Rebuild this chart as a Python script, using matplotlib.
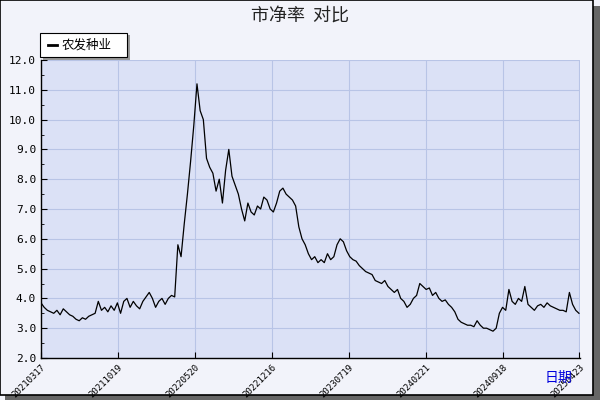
import matplotlib
matplotlib.use("Agg")
import matplotlib.pyplot as plt
from matplotlib.patches import Rectangle
import numpy as np

plt.rcParams['font.family'] = ['Noto Sans CJK SC', 'DejaVu Sans']

series_name = "农发种业"
step = 6
values = [
    3.85,3.7,3.6,3.55,3.5,3.6,3.45,3.65,3.55,3.45,
    3.4,3.3,3.25,3.35,3.3,3.4,3.45,3.5,3.9,3.6,
    3.7,3.55,3.75,3.6,3.85,3.5,3.9,4.0,3.7,3.9,
    3.75,3.65,3.9,4.05,4.2,4.0,3.7,3.9,4.0,3.8,
    4.0,4.1,4.05,5.8,5.4,6.5,7.5,8.6,9.8,11.2,
    10.3,10.0,8.7,8.4,8.2,7.6,8.0,7.2,8.3,9.0,
    8.1,7.8,7.5,7.0,6.6,7.2,6.9,6.8,7.1,7.0,
    7.4,7.3,7.0,6.9,7.2,7.6,7.7,7.5,7.4,7.3,
    7.1,6.4,6.0,5.8,5.5,5.3,5.4,5.2,5.3,5.2,
    5.5,5.3,5.4,5.8,6.0,5.9,5.6,5.4,5.3,5.25,
    5.1,5.0,4.9,4.85,4.8,4.6,4.55,4.5,4.6,4.4,
    4.3,4.2,4.3,4.0,3.9,3.7,3.8,4.0,4.1,4.5,
    4.4,4.3,4.35,4.1,4.2,4.0,3.9,3.95,3.8,3.7,
    3.55,3.3,3.2,3.15,3.1,3.1,3.05,3.25,3.1,3.0,
    3.0,2.95,2.9,3.0,3.5,3.7,3.6,4.3,3.9,3.8,
    4.0,3.9,4.4,3.8,3.7,3.6,3.75,3.8,3.7,3.85,
    3.75,3.7,3.65,3.6,3.6,3.55,4.2,3.8,3.6,3.5,
]
tick_labels = ["20210317","20211019","20220520","20221216","20230719",
               "20240221","20240918","20250423"]
tick_step = 145

x = np.arange(len(values)) * step

fig = plt.figure(figsize=(6, 4), dpi=100, facecolor='#f2f3fa')
fig.patches.append(Rectangle((0.008, 0.0), 0.992, 0.985, transform=fig.transFigure,
                             facecolor='#666666', edgecolor='none', zorder=-2))
fig.patches.append(Rectangle((0.0, 0.012), 0.988, 0.988, transform=fig.transFigure,
                             facecolor='#f2f3fa', edgecolor='black', lw=1.2, zorder=-1))

ax = fig.add_axes([41/600, 42/400, 539/600, 298/400])
ax.set_facecolor('#dbe1f6')
ax.plot(x, values, color='black', lw=0.9)
ax.set_xlim(0, (len(values)-1)*step + 2)
ax.set_ylim(2, 12)
ax.set_yticks(np.arange(2, 12.01, 1.0))
ax.set_yticks(np.arange(2, 12.01, 0.5), minor=True)
ax.set_yticklabels([f"{v:.1f}" for v in np.arange(2, 12.01, 1.0)], fontsize=8,
                   family='DejaVu Sans Mono')
xt = [i*tick_step for i in range(len(tick_labels))]
ax.set_xticks(xt)
ax.set_xticklabels(tick_labels, rotation=45, ha='right', rotation_mode='anchor',
                   fontsize=6.5, family='DejaVu Sans Mono')
ax.grid(True, color='#b8c4e6', lw=0.8)
ax.tick_params(axis='both', direction='in', length=4, color='black')
ax.tick_params(axis='y', which='minor', direction='in', length=2)
for s in ['top', 'right']:
    ax.spines[s].set_visible(False)
ax.spines['left'].set_linewidth(1.0)
ax.spines['bottom'].set_linewidth(1.0)

fig.text(0.5, 0.962, "市净率  对比", ha='center', va='center', fontsize=13, color='#222222')
fig.text(0.93, 0.055, "日期", ha='center', va='center', fontsize=10, color='#0000dd')

fig.patches.append(Rectangle((43/600, 340/400), 87/600, 25/400, transform=fig.transFigure,
                             facecolor='#999999', edgecolor='none'))
fig.patches.append(Rectangle((40/600, 343/400), 87/600, 24/400, transform=fig.transFigure,
                             facecolor='white', edgecolor='black', lw=0.8))
fig.lines.append(plt.Line2D([48/600, 57/600], [355/400, 355/400], transform=fig.transFigure,
                            color='black', lw=2))
fig.text(62/600, 355/400, series_name, va='center', fontsize=9)

fig.savefig("out.png", dpi=100, facecolor=fig.get_facecolor())
